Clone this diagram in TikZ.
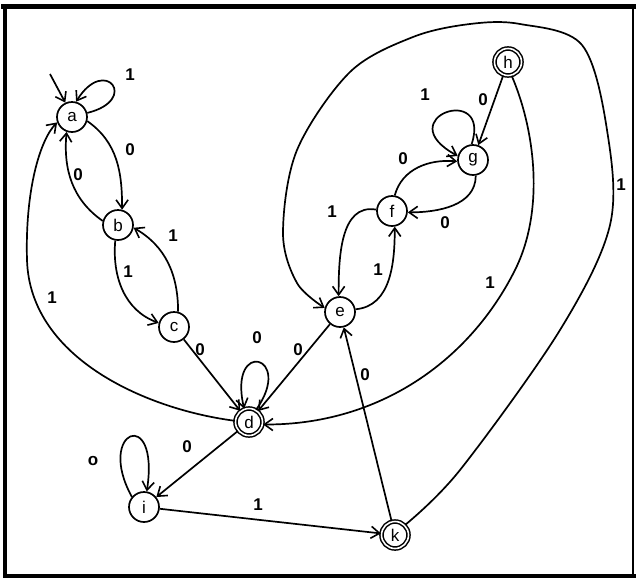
\documentclass[tikz,border=0pt]{standalone}
\usepackage{fontspec}
\setmainfont{Liberation Sans}
\usetikzlibrary{arrows.meta}
\begin{document}
\begin{tikzpicture}[x=1pt,y=-1pt,
  st/.style={circle,draw,line width=1.7pt,minimum size=30pt,inner sep=0pt,font=\fontsize{17}{17}\selectfont},
  acc/.style={st,double,line width=1.5pt,double distance=1.6pt,minimum size=27pt},
  lbl/.style={font=\bfseries\fontsize{17}{17}\selectfont,inner sep=0pt},
  edge/.style={line width=1.7pt,-{Straight Barb[length=8.5pt,width=12pt,line width=1.6pt]}},
  frame/.style={line cap=rect}]
\useasboundingbox (0,0) rectangle (636,579);
% frame
\draw[frame,line width=5pt] (3,6.5) -- (636,6.5);
\draw[frame,line width=4pt] (5,6) -- (5,576);
\draw[frame,line width=4pt] (5,576) -- (636,576);
\draw[line width=1.2pt] (633,6) -- (633,576);
% states
\node[st] (a) at (72,117) {a};
\node[st] (b) at (118,225) {b};
\node[st] (c) at (174,327) {c};
\node[acc] (d) at (249,422) {d};
\node[st] (e) at (340,312) {e};
\node[st] (f) at (392,211) {f};
\node[st] (g) at (473,160) {g};
\node[acc] (h) at (508,62) {h};
\node[st] (i) at (144,507) {i};
\node[acc] (k) at (395,535) {k};
% start
\coordinate (s0) at (50,74);
\draw[edge] (s0) -- (a.115);
% edges
\draw[edge] (a.15) .. controls (140,100) and (105,55) .. (a.75);
\draw[edge] (a.-15) to[out=-35,in=90] (b.75);
\draw[edge] (b.165) to[out=145,in=-95] (a.-110);
\draw[edge] (b.-100) to[out=-95,in=160] (c.165);
\draw[edge] (c.75) to[out=90,in=-30] (b.-10);
\draw[edge] (c) -- (d);
\draw[edge] (d.175) .. controls (150,410) and (30,360) .. (27,260) .. controls (25,190) and (40,140) .. (a.200);
\draw[edge] (d.60) .. controls (295,355) and (228,338) .. (d.110);
\draw[edge] (e) -- (d);
\draw[edge] (h.-75) .. controls (535,130) and (545,210) .. (515,270) .. controls (470,360) and (380,425) .. (d.-10);
\draw[edge] plot[smooth,tension=0.55] coordinates {(k.45) (460,470) (560,330) (610,225) (607,130) (582,45) (520,24) (470,24) (413,37) (350,72) (297,150) (283,233) (297,283) (e.165)};
\draw[edge] (k) -- (e);
\draw[edge] (e.10) to[out=5,in=-90] (f.-80);
\draw[edge] (f.175) to[out=170,in=90] (e.95);
\draw[edge] (f.80) to[out=75,in=175] (g.185);
\draw[edge] (g.-80) to[out=-90,in=0] (f.-5);
\draw[edge] (g.95) .. controls (492,82) and (388,118) .. (g.165);
\draw[edge] (h) -- (g);
\draw[edge] (d) -- (i);
\draw[edge] (i.140) .. controls (95,430) and (160,405) .. (i.80);
\draw[edge] (i) -- (k);
% labels
\node[lbl] (l1) at (130,75) {1};
\node[lbl] (l2) at (130,150) {0};
\node[lbl] (l3) at (78,175) {0};
\node[lbl] (l4) at (128,272) {1};
\node[lbl] (l5) at (173,236) {1};
\node[lbl] (l6) at (200,350) {0};
\node[lbl] (l7) at (52,298) {1};
\node[lbl] (l8) at (257,338) {0};
\node[lbl] (l9) at (298,350) {0};
\node[lbl] (l10) at (490,283) {1};
\node[lbl] (l11) at (621,185) {1};
\node[lbl] (l12) at (365,375) {0};
\node[lbl] (l13) at (378,270) {1};
\node[lbl] (l14) at (332,212) {1};
\node[lbl] (l15) at (403,159) {0};
\node[lbl] (l16) at (445,223) {0};
\node[lbl] (l17) at (425,95) {1};
\node[lbl] (l18) at (483,100) {0};
\node[lbl] (l19) at (187,447) {0};
\node[lbl] (l20) at (93,461) {o};
\node[lbl] (l21) at (258,505) {1};
\end{tikzpicture}
\end{document}
